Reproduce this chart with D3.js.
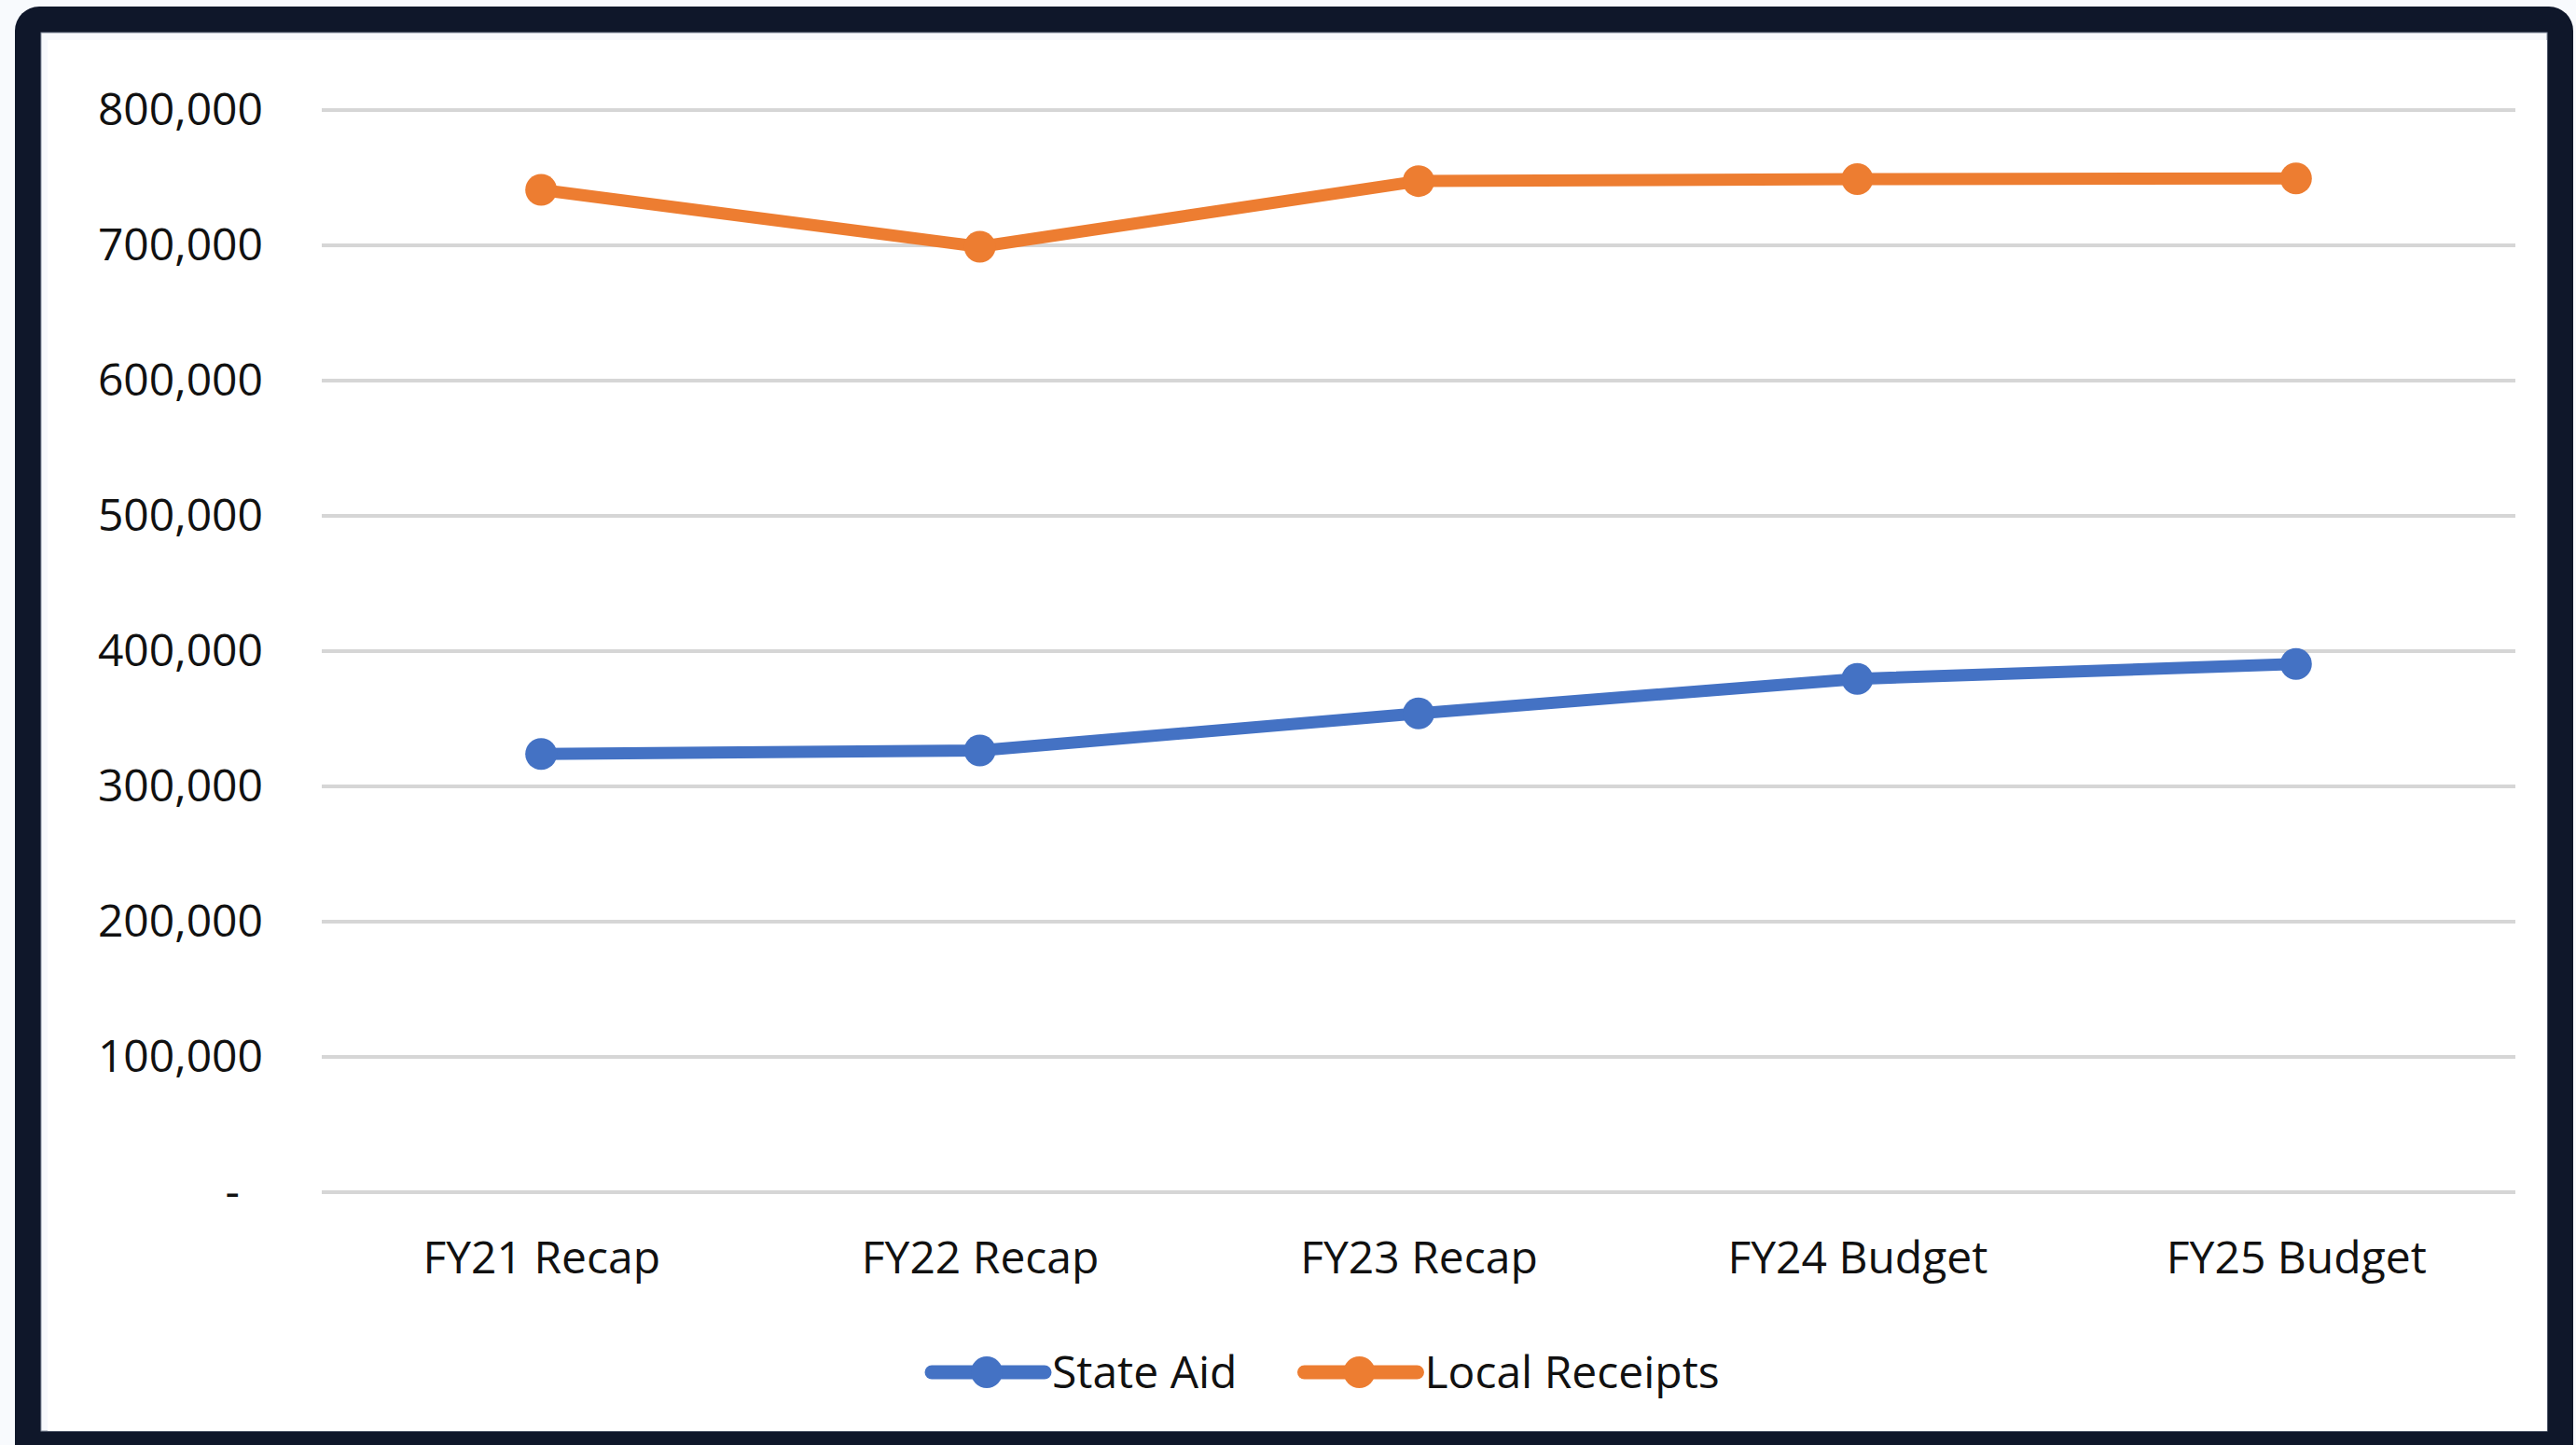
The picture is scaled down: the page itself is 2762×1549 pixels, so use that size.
<!DOCTYPE html>
<html>
<head>
<meta charset="utf-8">
<script src="https://cdn.jsdelivr.net/npm/d3@7"></script>
<style>
  html, body { margin: 0; padding: 0; background: #f8fafd; }
  svg { display: block; }
  text { font-family: "Open Sans", Lato, sans-serif; fill: #111; }
</style>
</head>
<body>
<script>
const W = 2762, H = 1549;
const margin = {top: 118, right: 65, bottom: 271, left: 345};

const categories = ["FY21 Recap", "FY22 Recap", "FY23 Recap", "FY24 Budget", "FY25 Budget"];
const state_aid = [324000, 326500, 354000, 379500, 390500];
const local_receipts = [741000, 699000, 747500, 749000, 749500];
const y_ticks = [0, 100000, 200000, 300000, 400000, 500000, 600000, 700000, 800000];

const series = [
  {name: "State Aid", values: state_aid, color: "#4472C4"},
  {name: "Local Receipts", values: local_receipts, color: "#ED7D31"}
];

let svg = d3.select("body").append("svg")
        .attr("width", W)
        .attr("height", H);

// frame
svg.append("rect")
   .attr("x", 16).attr("y", 7)
   .attr("width", 2743).attr("height", H + 40)
   .attr("rx", 26)
   .attr("fill", "#0f172a");
svg.append("rect")
   .attr("x", 44).attr("y", 35)
   .attr("width", 2687).attr("height", 1499)
   .attr("fill", "#f7f9fd")
   .attr("stroke", "#8a93a3")
   .attr("stroke-width", 1);
svg.append("rect")
   .attr("x", 51).attr("y", 43)
   .attr("width", 2680).attr("height", 1491)
   .attr("fill", "#fff");

const plot_w = W - margin.left - margin.right;
const plot_h = H - margin.top - margin.bottom;

let g = svg.append("g")
        .attr("transform", "translate(" + margin.left + "," + margin.top + ")");

let x = d3.scalePoint()
          .domain(categories)
          .range([0, plot_w])
          .padding(0.5);
let y = d3.scaleLinear()
          .domain([0, 800000])
          .range([plot_h, 0]);

// gridlines
g.append("g")
 .selectAll("line")
 .data(y_ticks)
 .join("line")
 .attr("x1", 0).attr("x2", plot_w)
 .attr("y1", d => y(d)).attr("y2", d => y(d))
 .attr("stroke", "#d6d6d6")
 .attr("stroke-width", 4);

// y axis labels
let y_axis = d3.axisLeft(y)
               .tickValues(y_ticks)
               .tickSize(0)
               .tickPadding(63)
               .tickFormat(d => d === 0 ? "-" : d3.format(",")(d));
let ya = g.append("g").call(y_axis);
ya.select(".domain").remove();
ya.selectAll("text")
  .style("font-size", "48px")
  .attr("fill", "#111")
  .attr("dx", d => d === 0 ? -25 : 0);

// x axis labels
let x_axis = d3.axisBottom(x).tickSize(0).tickPadding(53);
let xa = g.append("g")
          .attr("transform", "translate(0," + plot_h + ")")
          .call(x_axis);
xa.select(".domain").remove();
xa.selectAll("text")
  .style("font-size", "48px")
  .attr("fill", "#111");

// lines + markers
let line = d3.line()
             .x((d, i) => x(categories[i]))
             .y(d => y(d));

series.forEach(s => {
  g.append("path")
   .datum(s.values)
   .attr("d", line)
   .attr("fill", "none")
   .attr("stroke", s.color)
   .attr("stroke-width", 13)
   .attr("stroke-linejoin", "round");
  g.selectAll(null)
   .data(s.values)
   .join("circle")
   .attr("cx", (d, i) => x(categories[i]))
   .attr("cy", d => y(d))
   .attr("r", 17)
   .attr("fill", s.color);
});

// legend
let legend = svg.append("g").attr("transform", "translate(990,1471)");
let lx = 0;
series.forEach(s => {
  let item = legend.append("g").attr("transform", "translate(" + lx + ",0)");
  item.append("line")
      .attr("x1", 9).attr("x2", 130)
      .attr("y1", 0).attr("y2", 0)
      .attr("stroke", s.color)
      .attr("stroke-width", 15)
      .attr("stroke-linecap", "round");
  item.append("circle")
      .attr("cx", 68).attr("cy", 0)
      .attr("r", 17)
      .attr("fill", s.color);
  let t = item.append("text")
      .attr("x", 138)
      .attr("dy", "0.35em")
      .style("font-size", "48px")
      .text(s.name);
  lx += 138 + t.node().getComputedTextLength() + 63;
});
</script>
</body>
</html>
